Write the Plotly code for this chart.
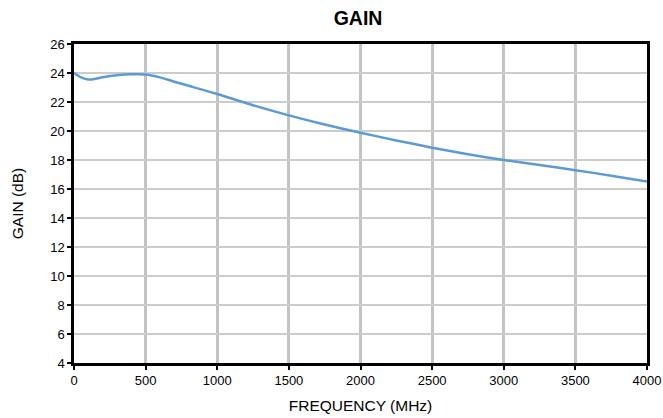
import plotly.graph_objects as go

freq_mhz = [0, 50, 100, 150, 200, 300, 400, 500, 600, 700, 800, 1000, 1250, 1500,
            1750, 2000, 2250, 2500, 2750, 3000, 3250, 3500, 3750, 4000]
gain_db = [24.0, 23.7, 23.55, 23.6, 23.7, 23.84, 23.91, 23.9, 23.7, 23.4, 23.12, 22.55,
           21.78, 21.08, 20.45, 19.88, 19.35, 18.85, 18.4, 18.0, 17.65, 17.3, 16.92, 16.52]

x_ticks = [0, 500, 1000, 1500, 2000, 2500, 3000, 3500, 4000]
y_ticks = [4, 6, 8, 10, 12, 14, 16, 18, 20, 22, 24, 26]

FONT = "Liberation Sans, Arial, sans-serif"

fig = go.Figure()
fig.add_trace(go.Scatter(
    x=freq_mhz, y=gain_db, mode="lines",
    line=dict(color="#5b9bd5", width=2.5, shape="spline", smoothing=0.8),
    showlegend=False, hoverinfo="x+y",
))

fig.update_layout(
    width=663, height=418,
    margin=dict(l=74, r=16, t=44, b=55),
    paper_bgcolor="white", plot_bgcolor="white",
    font=dict(family=FONT, size=13, color="black"),
    title=dict(text="<b>GAIN</b>", x=0.54, xanchor="center", y=0.957, yanchor="middle",
               font=dict(family=FONT, size=19.5, color="black")),
)

fig.update_xaxes(
    range=[0, 4000], tickvals=x_ticks, ticktext=[str(v) for v in x_ticks],
    showgrid=True, gridcolor="#c3c3c3", gridwidth=3,
    showline=True, linecolor="black", linewidth=2.5, mirror=True,
    ticks="outside", ticklen=4, tickwidth=2, tickcolor="black",
    tickfont=dict(size=13), zeroline=False, automargin=False,
    title=dict(text="FREQUENCY (MHz)", font=dict(size=15.5), standoff=13),
)
fig.update_yaxes(
    range=[4, 26], tickvals=y_ticks, ticktext=[str(v) for v in y_ticks],
    showgrid=True, gridcolor="#cccccc", gridwidth=1.5,
    showline=True, linecolor="black", linewidth=2.5, mirror=True,
    ticks="outside", ticklen=4, tickwidth=2, tickcolor="black",
    tickfont=dict(size=13), zeroline=False, automargin=False,
    title=dict(text="GAIN (dB)", font=dict(size=15.5), standoff=23),
)

fig.write_html("out.html", config={"displayModeBar": False},
               post_script="document.body.style.margin='0';")
